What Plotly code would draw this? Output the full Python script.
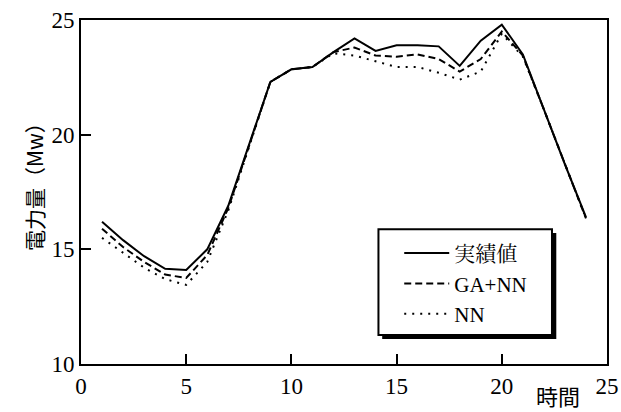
import plotly.graph_objects as go

hours = list(range(1, 25))
actual = [16.2, 15.4, 14.7, 14.15, 14.1, 15.0, 16.9, 19.6, 22.3, 22.85, 22.95, 23.6,
          24.2, 23.65, 23.9, 23.9, 23.85, 23.0, 24.1, 24.8, 23.5, 21.1, 18.7, 16.4]
ga_nn = [15.9, 15.1, 14.45, 13.9, 13.75, 14.75, 16.8, 19.55, 22.3, 22.85, 22.95, 23.6,
         23.8, 23.45, 23.4, 23.5, 23.3, 22.75, 23.3, 24.5, 23.45, 21.1, 18.7, 16.35]
nn = [15.5, 14.85, 14.2, 13.7, 13.45, 14.45, 16.7, 19.5, 22.3, 22.85, 22.95, 23.55,
      23.45, 23.2, 22.95, 22.95, 22.7, 22.4, 22.75, 24.4, 23.4, 21.1, 18.7, 16.35]
series_names = ["実績値", "GA+NN", "NN"]
x_ticks = [0, 5, 10, 15, 20, 25]
y_ticks = [10, 15, 20, 25]

FONT = "Liberation Serif, Times New Roman, Noto Serif CJK JP, Noto Sans CJK JP, serif"
CJK = "Noto Sans CJK JP, sans-serif"

fig = go.Figure()
styles = [dict(dash="solid", width=2), dict(dash="7px,4px", width=2), dict(dash="2px,6px", width=2)]
for name, vals, st in zip(series_names, [actual, ga_nn, nn], styles):
    fig.add_trace(go.Scatter(x=hours, y=vals, mode="lines", name=name, legendgroup=name,
                             line=dict(color="black", **st)))

axis_common = dict(ticks="inside", ticklen=10, tickwidth=1.5, tickcolor="black",
                   showline=True, linecolor="black", linewidth=2, mirror=True,
                   showgrid=False, zeroline=False, automargin=False,
                   tickfont=dict(size=23, family=FONT, color="black"))

fig.update_layout(
    width=621, height=412,
    margin=dict(l=81, r=14, t=20, b=48, autoexpand=False),
    paper_bgcolor="white", plot_bgcolor="white",
    font=dict(family=FONT, size=23, color="black"),
    showlegend=True,
    legend=dict(x=0.605, y=0.381, xanchor="left", yanchor="top",
                bgcolor="rgba(0,0,0,0)", borderwidth=0,
                font=dict(family=FONT, size=21, color="black"),
                tracegroupgap=0, itemwidth=45),
    xaxis=dict(range=[0, 25], tickvals=x_ticks, **axis_common),
    yaxis=dict(range=[10, 25], tickvals=y_ticks, **axis_common),
    annotations=[
        dict(text="時間", xref="paper", yref="paper", x=0.907, y=-0.090, xanchor="center",
             yanchor="middle", showarrow=False, font=dict(family=CJK, size=22)),
        dict(text="電力量（Mw）", xref="paper", yref="paper", x=-0.0905, y=0.530,
             xanchor="center", yanchor="middle", textangle=-90, showarrow=False,
             font=dict(family=CJK + ", " + FONT, size=21)),
    ],
    shapes=[
        dict(type="rect", xref="paper", yref="paper", x0=0.5726, x1=0.9036, y0=0.0727, y1=0.381,
             fillcolor="black", line=dict(width=0), layer="above"),
        dict(type="rect", xref="paper", yref="paper", x0=0.5655, x1=0.8954, y0=0.0843, y1=0.3916,
             fillcolor="white", line=dict(width=2, color="black"), layer="above"),
    ],
)

fig.write_html("out.html", config={"displayModeBar": False},
               post_script="document.body.style.margin='0';")
